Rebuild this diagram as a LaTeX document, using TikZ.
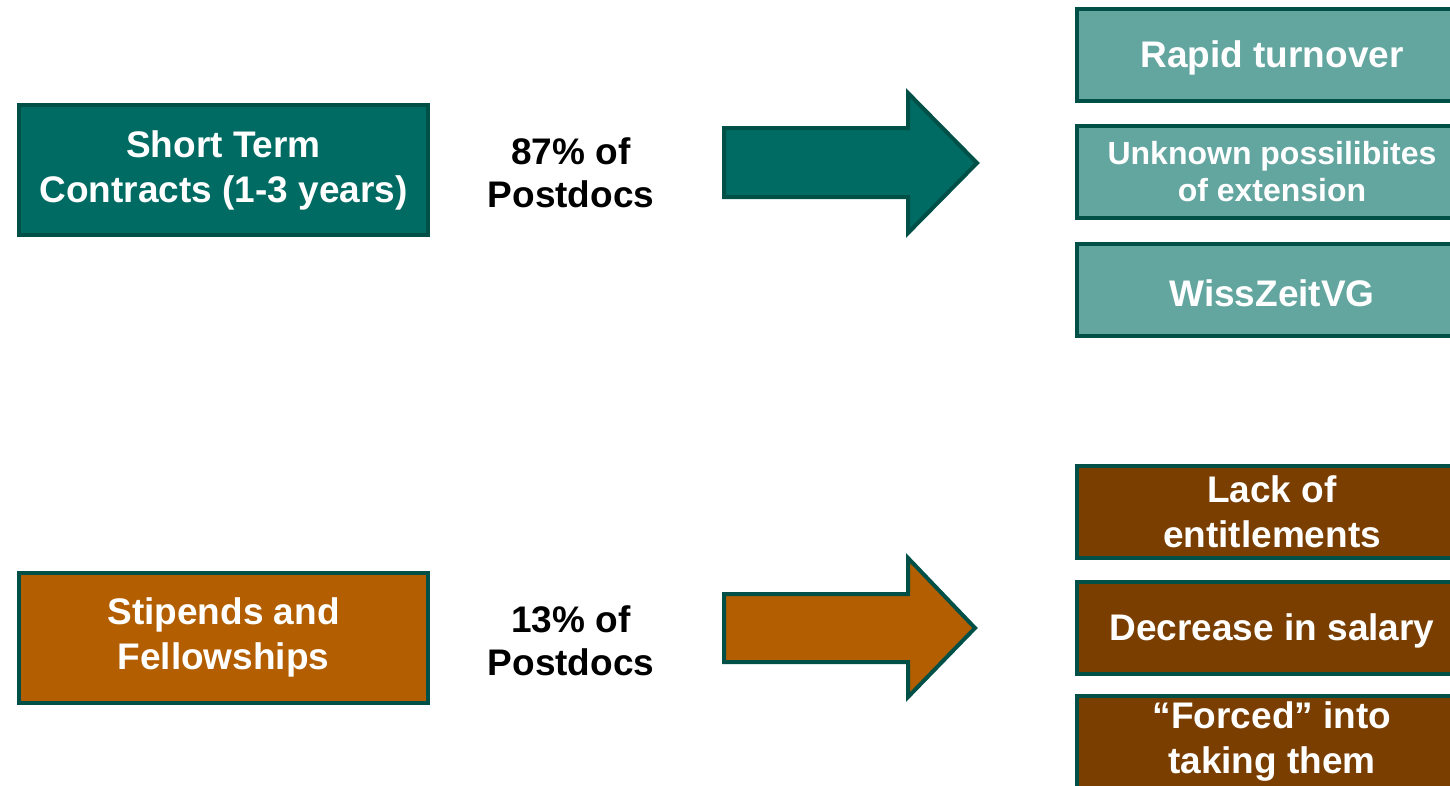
\documentclass[tikz,border=0pt]{standalone}
\usepackage{fontspec}
\setmainfont{Liberation Sans}
\usepackage{tikz}
\usepackage{color}

\definecolor{darkteal}{RGB}{0,107,99}
\definecolor{lightteal}{RGB}{99,166,160}
\definecolor{rust}{RGB}{179,94,0}
\definecolor{chestnut}{RGB}{122,63,0}
\definecolor{edgeteal}{RGB}{0,80,72}

\tikzset{
  kindbox/.style={draw=edgeteal, line width=4pt, text=white, align=center,
    font=\bfseries\fontsize{37}{45}\selectfont, inner sep=0pt,
    minimum width=409pt, minimum height=130pt,
    execute at begin node={\rule{0pt}{34pt}}},
  issuebox/.style={draw=edgeteal, line width=4pt, text=white, align=center,
    font=\bfseries\fontsize{37}{45}\selectfont, inner sep=0pt,
    minimum width=390pt, minimum height=92pt,
    execute at begin node={\rule{0pt}{34pt}}},
  share/.style={align=center, font=\bfseries\fontsize{37}{43}\selectfont},
  blockarrow/.style={draw=edgeteal, line width=4pt, line join=miter}
}

\begin{document}
\begin{tikzpicture}[x=1pt, y=-1pt]
          \useasboundingbox (0, 0) rectangle (1450, 785);
          \clip (0, 0) rectangle (1450, 785);
          % contracts
          \node[kindbox, fill=darkteal] (contracts) at (223.5, 170) {Short Term\\Contracts (1-3 years)};
          \node[share] (share87) at (571, 173) {87\% of\\Postdocs};
          \draw[blockarrow, fill=darkteal] (724, 128) -- (908, 128) -- (908, 93) -- (977, 163)
               -- (908, 233) -- (908, 197) -- (724, 197) -- cycle;
          \node[issuebox, fill=lightteal] (turnover) at (1272, 54.5) {Rapid turnover};
          \node[issuebox, fill=lightteal, font=\bfseries\fontsize{32}{37}\selectfont] (extension) at (1272, 172) {Unknown possilibites\\of extension};
          \node[issuebox, fill=lightteal] (wisszeit) at (1272, 289.5) {WissZeitVG};
          % stipends
          \node[kindbox, fill=rust] (stipends) at (223.5, 637.5) {Stipends and\\Fellowships};
          \node[share] (share13) at (571, 641) {13\% of\\Postdocs};
          \draw[blockarrow, fill=rust] (724, 594) -- (908, 594) -- (908, 558) -- (975, 628)
               -- (908, 697) -- (908, 662) -- (724, 662) -- cycle;
          \node[issuebox, fill=chestnut] (entitle) at (1272, 511.5) {Lack of\\entitlements};
          \node[issuebox, fill=chestnut] (salary) at (1272, 627.5) {Decrease in salary};
          \node[issuebox, fill=chestnut] (forced) at (1272, 742) {``Forced'' into\\taking them};
\end{tikzpicture}
\end{document}
